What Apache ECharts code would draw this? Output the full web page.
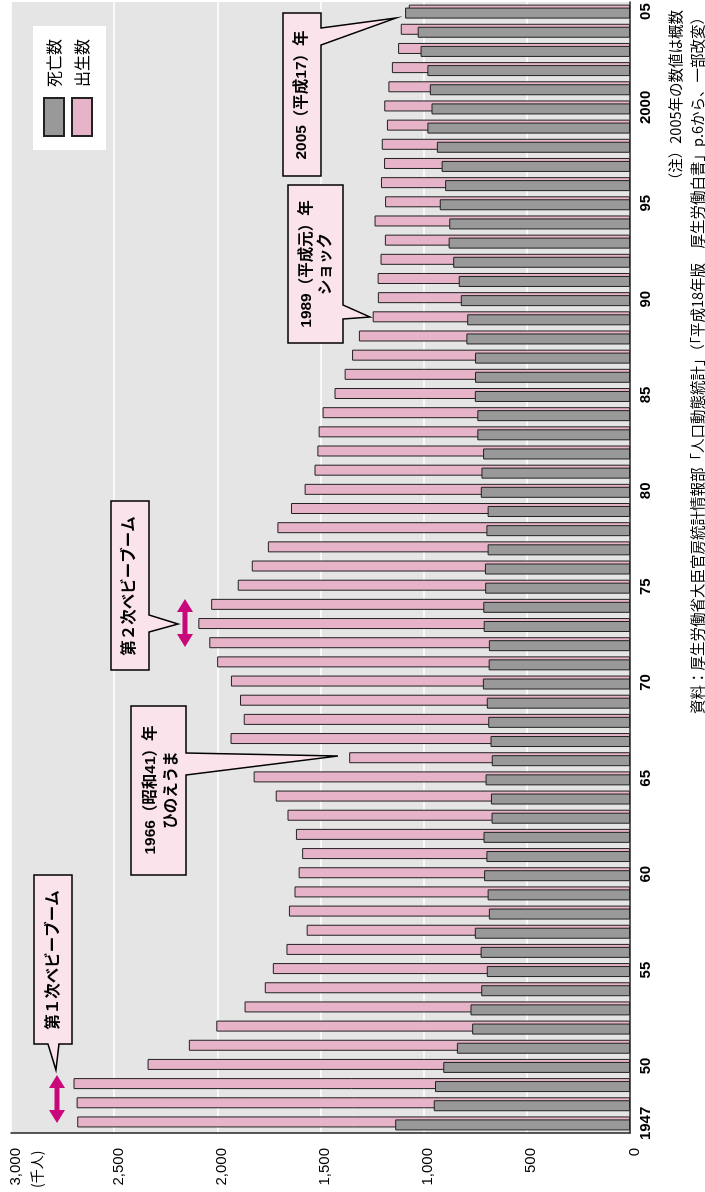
<!DOCTYPE html>
<html>
<head>
<meta charset="utf-8">
<title>出生数と死亡数の推移</title>
<script src="https://cdn.jsdelivr.net/npm/echarts@6/dist/echarts.min.js"></script>
<style>
html, body { margin: 0; padding: 0; background: #fff; width: 705px; height: 1192px; overflow: hidden; }
/* chart is laid out landscape then turned a quarter turn to the left */
#chartmain { position: absolute; left: 0; top: 0; width: 1192px; height: 705px;
  transform-origin: 0 0; transform: translateY(1192px) rotate(-90deg); }
</style>
</head>
<body>
<div id="chartmain"></div>
<script>
var years = ['1947','1948','1949','1950','1951','1952','1953','1954','1955','1956',
  '1957','1958','1959','1960','1961','1962','1963','1964','1965','1966',
  '1967','1968','1969','1970','1971','1972','1973','1974','1975','1976',
  '1977','1978','1979','1980','1981','1982','1983','1984','1985','1986',
  '1987','1988','1989','1990','1991','1992','1993','1994','1995','1996',
  '1997','1998','1999','2000','2001','2002','2003','2004','2005'];
// 出生数 (千人)
var births = [2679,2682,2697,2338,2138,2005,1868,1770,1731,1665,
  1567,1653,1626,1606,1589,1619,1660,1717,1824,1361,
  1936,1872,1890,1934,2001,2039,2092,2030,1901,1833,
  1755,1709,1643,1577,1529,1515,1509,1490,1432,1383,
  1347,1314,1247,1222,1223,1209,1188,1238,1187,1207,
  1192,1203,1178,1191,1171,1154,1124,1111,1072];
// 死亡数 (千人)
var deaths = [1138,951,945,905,839,765,773,721,694,724,
  752,684,690,707,696,710,671,674,700,670,
  676,687,694,713,685,684,709,711,702,703,
  690,696,690,723,720,712,740,740,752,751,
  751,793,789,820,830,857,879,876,922,896,
  913,936,982,962,970,982,1015,1029,1090];
var tickYears = ['1947','1950','1955','1960','1965','1970','1975','1980','1985','1990','1995','2000','2005'];
var tickLabels = ['1947','50','55','60','65','70','75','80','85','90','95','2000','05'];
var valueLabels = ['0','500','1,000','1,500','2,000','2,500','3,000'];

var LATIN = '"Liberation Sans", "Noto Sans CJK JP", sans-serif';
var CJK = '"Noto Sans CJK JP", "Liberation Sans", sans-serif';
var CALLOUT_FILL = '#fbe3ec';

function balloon(points) {
  return { type: 'polygon', shape: { points: points },
    style: { fill: CALLOUT_FILL, stroke: '#000', lineWidth: 1.5 }, z: 50 };
}
function label(x, y, text) {
  return { type: 'text', x: x, y: y, z: 60,
    style: { text: text, fill: '#000', font: 'bold 15.5px ' + LATIN,
      align: 'center', verticalAlign: 'middle' } };
}
function doubleArrow(a, b, cy) {
  var hl = 13, hw = 8, sw = 2.5;
  return { type: 'polygon', z: 40, style: { fill: '#c8087a' },
    shape: { points: [[a, cy], [a + hl, cy - hw], [a + hl, cy - sw], [b - hl, cy - sw], [b - hl, cy - hw],
      [b, cy], [b - hl, cy + hw], [b - hl, cy + sw], [a + hl, cy + sw], [a + hl, cy + hw]] } };
}

window.onload = function () {
  var chart = echarts.init(document.getElementById('chartmain'));
  var option = {
    animation: false,
    grid: { left: 59, right: 2, top: 11, bottom: 75, show: true, backgroundColor: '#e5e5e5',
      borderWidth: 0, outerBoundsMode: 'none', containLabel: false },
    legend: {
      data: ['死亡数', '出生数'], orient: 'vertical', left: 1042, top: 33,
      backgroundColor: '#fff', padding: [10, 13, 13, 13], itemWidth: 38, itemHeight: 20, itemGap: 6,
      icon: 'rect', selectedMode: false,
      textStyle: { fontSize: 16, fontFamily: CJK, color: '#000', padding: [0, 0, 0, 6] }
    },
    xAxis: {
      type: 'category', data: years,
      axisLine: { lineStyle: { color: '#222', width: 1.5 } },
      axisTick: { show: false },
      axisLabel: {
        interval: function (i, v) { return tickYears.indexOf(v) >= 0; },
        formatter: function (v) { return tickLabels[tickYears.indexOf(v)]; },
        color: '#000', fontSize: 15, fontWeight: 'bold', fontFamily: LATIN, margin: 8
      },
      splitLine: { show: false }
    },
    yAxis: {
      type: 'value', min: 0, max: 3000, interval: 500,
      axisLine: { show: true, lineStyle: { color: '#222', width: 1.5 } },
      axisTick: { show: false },
      axisLabel: {
        formatter: function (v) { return valueLabels[v / 500]; },
        color: '#000', fontSize: 15, fontFamily: LATIN, margin: 15,
        verticalAlign: 'top', lineHeight: 9
      },
      splitLine: { lineStyle: { color: '#fff', width: 1.5 } }
    },
    series: [
      { name: '死亡数', type: 'bar', data: deaths, barWidth: 11, barGap: '-73%', z: 3,
        itemStyle: { color: '#999999', borderColor: '#222', borderWidth: 1 } },
      { name: '出生数', type: 'bar', data: births, barWidth: 11, z: 2,
        itemStyle: { color: '#e7b3c8', borderColor: '#222', borderWidth: 1 } }
    ],
    graphic: [
      { type: 'text', x: 4, y: 37, z: 60,
        style: { text: '(千人)', fill: '#000', font: '14px ' + CJK, align: 'left', verticalAlign: 'middle' } },
      // 第1次ベビーブーム
      balloon([[148, 34], [317, 34], [317, 72], [148, 72], [148, 59], [122, 56], [148, 48]]),
      label(232, 54, '第１次ベビーブーム'),
      doubleArrow(69, 117, 57),
      // 第2次ベビーブーム
      balloon([[522, 111], [691, 111], [691, 149], [577, 149], [568, 178], [560, 149], [522, 149]]),
      label(606, 130, '第２次ベビーブーム'),
      doubleArrow(545, 593, 185),
      // 1966 ひのえうま
      balloon([[317, 131], [486, 131], [486, 186], [439, 186], [436, 338], [417, 186], [317, 186]]),
      label(402, 151, '1966（昭和41）年'),
      label(402, 172, 'ひのえうま'),
      // 1989 ショック
      balloon([[849, 288], [1007, 288], [1007, 343], [887, 343], [875, 370], [873, 343], [849, 343]]),
      label(928, 307, '1989（平成元）年'),
      label(928, 326, 'ショック'),
      // 2005
      balloon([[1016, 283], [1179, 283], [1179, 321], [1164, 321], [1174, 396], [1147, 321], [1016, 321]]),
      label(1097, 302, '2005（平成17）年'),
      // notes
      { type: 'text', x: 1182, y: 675, z: 60,
        style: { text: '（注）2005年の数値は概数', fill: '#000', font: '14.5px ' + CJK,
          align: 'right', verticalAlign: 'middle' } },
      { type: 'text', x: 1182, y: 697, z: 60,
        style: { text: '資料：厚生労働省大臣官房統計情報部「人口動態統計」（「平成18年版　厚生労働白書」p.6から、一部改変）',
          fill: '#000', font: '14.5px ' + CJK, align: 'right', verticalAlign: 'middle' } }
    ]
  };
  chart.setOption(option);
};
</script>
</body>
</html>
